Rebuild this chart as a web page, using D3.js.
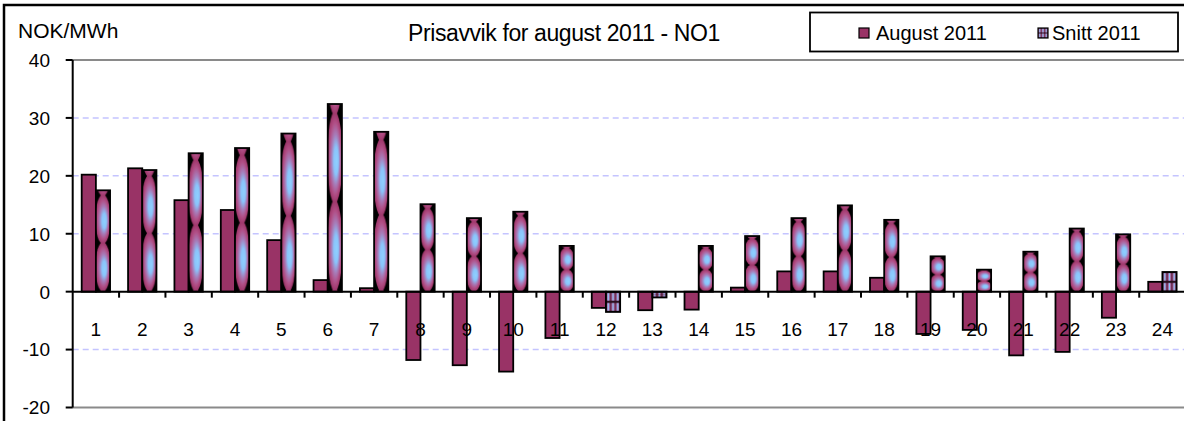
<!DOCTYPE html>
<html>
<head>
<meta charset="utf-8">
<script src="https://cdn.jsdelivr.net/npm/d3@7"></script>
<style>
  body { margin: 0; background: #fff; }
  svg { display: block; font-family: "Liberation Sans", Arial, sans-serif; }
</style>
</head>
<body>
<svg id="chart"></svg>
<script>
const hours = d3.range(1, 25).map(String);
const august2011 = [20.2, 21.3, 15.8, 14.1, 8.9, 2.0, 0.6, -11.8, -12.7, -13.8, -8.0, -2.8,
  -3.2, -3.1, 0.7, 3.5, 3.5, 2.4, -7.3, -6.6, -11.0, -10.4, -4.5, 1.7];
const snitt2011 = [17.5, 21.0, 23.9, 24.8, 27.3, 32.4, 27.6, 15.1, 12.7, 13.8, 7.9, -3.5,
  -1.0, 7.9, 9.6, 12.7, 14.9, 12.4, 6.1, 3.8, 6.9, 10.9, 9.9, 3.4];
const seriesNames = ["August 2011", "Snitt 2011"];
const yTicks = [-20, -10, 0, 10, 20, 30, 40];
const gridValues = [-10, 10, 20, 30];

const width = 1184;
const height = 421;
const plotLeft = 72.7, plotRight = 1185.6, plotTop = 60, plotBottom = 407.5;

const svg = d3.select("#chart").attr("width", width).attr("height", height);
const defs = svg.append("defs");

// bubble picture fill for the Snitt bars
const grad = defs.append("radialGradient")
  .attr("id", "bubble")
  .attr("cx", 0.5).attr("cy", 0.5).attr("r", 0.5)
  .attr("fx", 0.62).attr("fy", 0.55);
[[0, "#8fd0ff"], [0.3, "#8ac4fb"], [0.55, "#a77cb8"], [0.78, "#b14f86"], [1, "#9b3366"]]
  .forEach(([o, c]) => grad.append("stop").attr("offset", o).attr("stop-color", c));

const bubbles = defs.append("pattern")
  .attr("id", "bubbles")
  .attr("patternUnits", "objectBoundingBox")
  .attr("patternContentUnits", "objectBoundingBox")
  .attr("x", 0).attr("y", 0.05)
  .attr("width", 1).attr("height", 0.47);
bubbles.append("rect").attr("width", 1).attr("height", 0.47).attr("fill", "#000");
bubbles.append("ellipse")
  .attr("cx", 0.5).attr("cy", 0.235).attr("rx", 0.54).attr("ry", 0.245)
  .attr("fill", "url(#bubble)");

// squashed version for short bars and the legend key
const stripes = defs.append("pattern")
  .attr("id", "stripes")
  .attr("patternUnits", "objectBoundingBox")
  .attr("patternContentUnits", "objectBoundingBox")
  .attr("width", 0.3334).attr("height", 0.5);
stripes.append("rect").attr("width", 0.3334).attr("height", 0.5).attr("fill", "#2a1020");
stripes.append("rect").attr("x", 0.03).attr("y", 0.06)
  .attr("width", 0.27).attr("height", 0.38).attr("fill", "#b4508a");
stripes.append("rect").attr("x", 0.11).attr("y", 0.06)
  .attr("width", 0.11).attr("height", 0.38).attr("fill", "#8cc6fb");

const x0 = d3.scaleBand().domain(hours).range([plotLeft, plotRight])
  .paddingInner(0.388).paddingOuter(0.194);
const x1 = d3.scaleBand().domain(seriesNames).range([0, x0.bandwidth()]);
const y = d3.scaleLinear().domain([-20, 40]).range([plotBottom, plotTop]);
const step = x0.step();

// outer chart border
svg.append("path")
  .attr("d", `M4,${height + 5}V5H${width + 5}`)
  .attr("fill", "none").attr("stroke", "#000").attr("stroke-width", 2.5);

// gridlines
svg.append("g")
  .selectAll("line")
  .data(gridValues)
  .join("line")
  .attr("x1", plotLeft).attr("x2", plotRight)
  .attr("y1", (d) => y(d)).attr("y2", (d) => y(d))
  .attr("stroke", "#c4c4ff").attr("stroke-width", 1.5)
  .attr("stroke-dasharray", "6,4");

svg.append("g")
  .selectAll("line")
  .data([40, -20])
  .join("line")
  .attr("x1", plotLeft).attr("x2", plotRight)
  .attr("y1", (d) => y(d)).attr("y2", (d) => y(d))
  .attr("stroke", "#8a8a8a").attr("stroke-width", 2);

// bars
const groups = svg.append("g")
  .selectAll("g")
  .data(hours)
  .join("g")
  .attr("transform", (d) => `translate(${x0(d)},0)`);

groups.append("rect")
  .attr("x", x1("August 2011"))
  .attr("width", x1.bandwidth())
  .attr("y", (d, i) => y(Math.max(0, august2011[i])))
  .attr("height", (d, i) => Math.abs(y(august2011[i]) - y(0)))
  .attr("fill", "#993366")
  .attr("stroke", "#000").attr("stroke-width", 1.8);

groups.append("rect")
  .attr("x", x1("Snitt 2011"))
  .attr("width", x1.bandwidth())
  .attr("y", (d, i) => y(Math.max(0, snitt2011[i])))
  .attr("height", (d, i) => Math.abs(y(snitt2011[i]) - y(0)))
  .attr("fill", (d, i) => Math.abs(y(snitt2011[i]) - y(0)) < 21 ? "url(#stripes)" : "url(#bubbles)")
  .attr("stroke", "#000").attr("stroke-width", 1.8);

// y axis
const yAxis = svg.append("g");
yAxis.append("line")
  .attr("x1", plotLeft).attr("x2", plotLeft).attr("y1", plotTop).attr("y2", plotBottom)
  .attr("stroke", "#000").attr("stroke-width", 2);
yAxis.selectAll("line.tick")
  .data(yTicks)
  .join("line")
  .attr("class", "tick")
  .attr("x1", plotLeft - 7).attr("x2", plotLeft)
  .attr("y1", (d) => y(d)).attr("y2", (d) => y(d))
  .attr("stroke", "#000").attr("stroke-width", 2);
yAxis.selectAll("text")
  .data(yTicks)
  .join("text")
  .attr("x", 50)
  .attr("y", (d) => y(d))
  .attr("dy", "0.36em")
  .attr("text-anchor", "end")
  .attr("font-size", 19)
  .text((d) => d);

// x axis at zero, ticks between the hours
const xAxis = svg.append("g");
xAxis.append("line")
  .attr("x1", plotLeft).attr("x2", plotRight).attr("y1", y(0)).attr("y2", y(0))
  .attr("stroke", "#000").attr("stroke-width", 2);
xAxis.selectAll("line.tick")
  .data(hours)
  .join("line")
  .attr("class", "tick")
  .attr("x1", (d, i) => plotLeft + (i + 1) * step)
  .attr("x2", (d, i) => plotLeft + (i + 1) * step)
  .attr("y1", y(0)).attr("y2", y(0) + 6)
  .attr("stroke", "#000").attr("stroke-width", 2);
xAxis.selectAll("text")
  .data(hours)
  .join("text")
  .attr("x", (d) => x0(d) + x0.bandwidth() / 2)
  .attr("y", 336)
  .attr("text-anchor", "middle")
  .attr("font-size", 19)
  .text((d) => d);

// titles
svg.append("text")
  .attr("x", 18).attr("y", 38)
  .attr("font-size", 21)
  .text("NOK/MWh");

svg.append("text")
  .attr("x", 408).attr("y", 41)
  .attr("font-size", 23)
  .attr("letter-spacing", -0.4)
  .text("Prisavvik for august 2011 - NO1");

// legend
const legend = svg.append("g");
legend.append("rect")
  .attr("x", 810).attr("y", 12.5)
  .attr("width", 368).attr("height", 39)
  .attr("fill", "#fff").attr("stroke", "#000").attr("stroke-width", 1.8);

const legendItems = legend.selectAll("g.item")
  .data(seriesNames)
  .join("g")
  .attr("class", "item")
  .attr("transform", (d, i) => `translate(${[859, 1038][i]}, 28)`);

legendItems.append("rect")
  .attr("width", 10).attr("height", 10)
  .attr("fill", (d, i) => i === 0 ? "#993366" : "url(#stripes)")
  .attr("stroke", "#000").attr("stroke-width", 1.2);

legendItems.append("text")
  .attr("x", (d, i) => i === 0 ? 17 : 14)
  .attr("y", 12)
  .attr("font-size", 20)
  .text((d) => d);
</script>
</body>
</html>
